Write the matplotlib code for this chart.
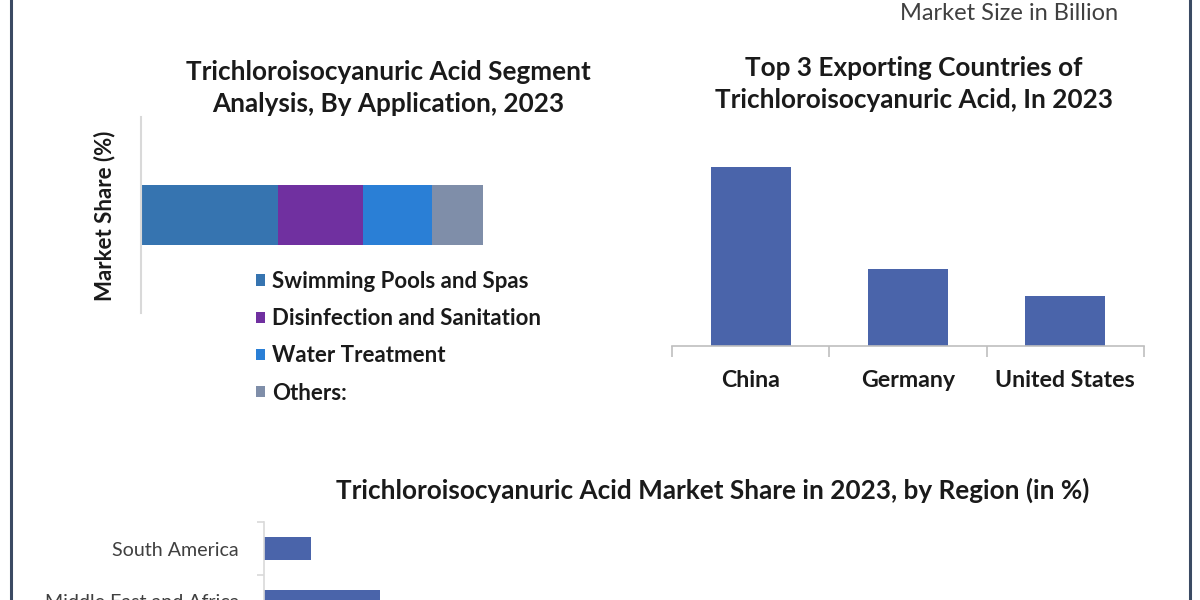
import matplotlib
matplotlib.use("Agg")
import matplotlib.pyplot as plt
from matplotlib.ticker import FixedLocator, NullFormatter, FixedFormatter

# ---------------- data ----------------
applications = ["Swimming Pools and Spas", "Disinfection and Sanitation",
                "Water Treatment", "Others:"]
app_share = [40, 25, 20, 15]
app_colors = ["#3674B0", "#7030A0", "#2A7FD6", "#7F8EA9"]

countries = ["China", "Germany", "United States"]
export_values = [3.58, 1.54, 1.00]

regions = ["South America", "Middle East and Africa"]   # top to bottom
region_share = [6.0, 14.8]

bar_blue = "#4A64AA"

plt.rcParams['font.family'] = ['Lato', 'DejaVu Sans']

W, H = 1200, 600
fig = plt.figure(figsize=(12, 6), dpi=100)
fig.patch.set_facecolor("white")


def px_axes(x0, y0, x1, y1):
    """axes from pixel box (top-left origin)"""
    return fig.add_axes([x0 / W, 1 - y1 / H, (x1 - x0) / W, (y1 - y0) / H])


# border lines
fig.add_artist(plt.Line2D([10.5 / W, 10.5 / W], [0, 1], color="#3B4A63", lw=2.2,
                          transform=fig.transFigure))
fig.add_artist(plt.Line2D([1189.5 / W, 1189.5 / W], [0, 1], color="#3B4A63", lw=2.2,
                          transform=fig.transFigure))

TITLE_FS = 18.8

# ---------------- left: stacked bar ----------------
ax1 = px_axes(141, 117, 600, 313)
left = 0
handles = []
for lab, v, c in zip(applications, app_share, app_colors):
    b = ax1.barh([0], [v], left=left, height=0.311, color=c, label=lab)
    handles.append(b)
    left += v
ax1.set_xlim(0, 459 / 3.42)
ax1.set_ylim(-0.5, 0.5)
for s in ["top", "right", "bottom"]:
    ax1.spines[s].set_visible(False)
ax1.spines["left"].set_color("#D9D9D9")
ax1.spines["left"].set_linewidth(1.5)
ax1.set_xticks([])
ax1.set_yticks([])
fig.text(105 / W, 1 - 216 / H, "Market Share (%)", rotation=90, ha="center",
         va="center", fontsize=16, fontweight="bold", color="#1A1A1A")
fig.text(388 / W, 1 - 88 / H, "Trichloroisocyanuric Acid Segment\nAnalysis, By Application, 2023",
         ha="center", va="center", fontsize=TITLE_FS, fontweight="bold", color="#1A1A1A",
         linespacing=1.42)
leg = fig.legend(handles=handles, labels=applications, loc="upper left",
                 bbox_to_anchor=(256 / W, 1 - 271 / H), bbox_transform=fig.transFigure,
                 frameon=False, fontsize=16, handlelength=0.42, handleheight=0.42,
                 handletextpad=0.3, labelspacing=0.73, borderpad=0, borderaxespad=0)
for t in leg.get_texts():
    t.set_fontweight("bold")
    t.set_color("#1A1A1A")

# ---------------- right: column chart ----------------
ax2 = px_axes(672, 140, 1144, 346)
x = list(range(len(countries)))
ax2.bar(x, export_values, width=0.51, color=bar_blue)
ax2.set_xlim(-0.5, 2.5)
ax2.set_ylim(0, 206 / 50)
for s in ["top", "right", "left"]:
    ax2.spines[s].set_visible(False)
ax2.spines["bottom"].set_color("#BFBFBF")
ax2.spines["bottom"].set_linewidth(1.2)
ax2.set_yticks([])
ax2.xaxis.set_major_locator(FixedLocator([-0.5, 0.5, 1.5, 2.5]))
ax2.xaxis.set_major_formatter(NullFormatter())
ax2.xaxis.set_minor_locator(FixedLocator(x))
ax2.xaxis.set_minor_formatter(FixedFormatter(countries))
ax2.tick_params(axis="x", which="major", length=8, color="#BFBFBF", width=1.2, direction="out")
ax2.tick_params(axis="x", which="minor", length=0, pad=17, labelsize=16.7, labelcolor="#1A1A1A")
for t in ax2.get_xminorticklabels():
    t.set_fontweight("bold")
fig.text(914 / W, 1 - 84 / H, "Top 3 Exporting Countries of\nTrichloroisocyanuric Acid, In 2023",
         ha="center", va="center", fontsize=TITLE_FS, fontweight="bold", color="#1A1A1A",
         linespacing=1.42)
fig.text(1009 / W, 1 - 14 / H, "Market Size in Billion", ha="center", va="center",
         fontsize=17, color="#404040")

# ---------------- bottom: horizontal bar ----------------
ax3 = px_axes(264, 522, 1150, 628)
y = list(range(len(regions)))
ax3.barh(y, region_share, height=0.434, color=bar_blue)
ax3.set_ylim(1.5, -0.5)
ax3.set_xlim(0, 886 / 7.83)
for s in ["top", "right", "bottom"]:
    ax3.spines[s].set_visible(False)
ax3.spines["left"].set_color("#D9D9D9")
ax3.spines["left"].set_linewidth(1.2)
ax3.set_xticks([])
ax3.yaxis.set_major_locator(FixedLocator([-0.5, 0.5, 1.5]))
ax3.yaxis.set_major_formatter(NullFormatter())
ax3.yaxis.set_minor_locator(FixedLocator(y))
ax3.yaxis.set_minor_formatter(FixedFormatter(regions))
ax3.tick_params(axis="y", which="major", length=5, color="#D9D9D9", width=1.2, direction="out")
ax3.tick_params(axis="y", which="minor", length=0, pad=18, labelsize=14.1, labelcolor="#404040")
fig.text(713 / W, 1 - 490 / H,
         "Trichloroisocyanuric Acid Market Share in 2023, by Region (in %)",
         ha="center", va="center", fontsize=TITLE_FS, fontweight="bold", color="#1A1A1A")

fig.savefig("out.png", dpi=100, facecolor="white")
